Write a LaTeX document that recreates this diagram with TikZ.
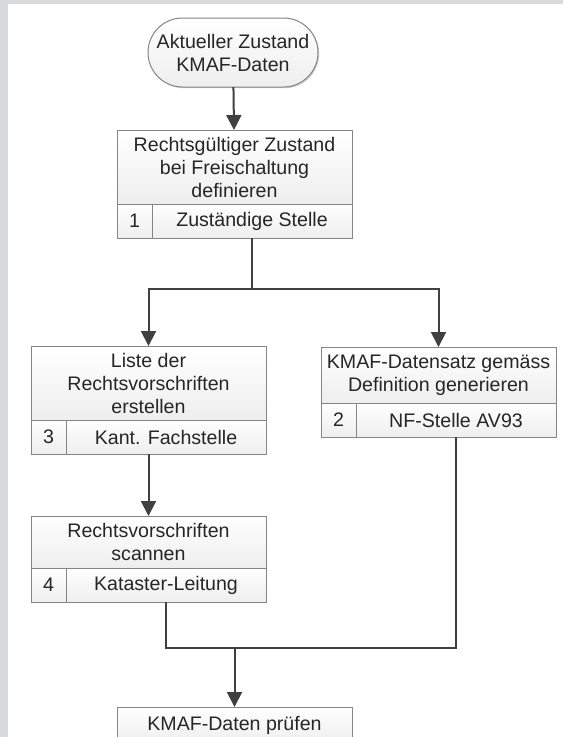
\documentclass[tikz,border=0pt]{standalone}
\usepackage{fontspec}
\setmainfont{Liberation Sans}
\usepackage{tikz}
\usetikzlibrary{arrows.meta,shadows}
\definecolor{c1}{HTML}{404040}
\definecolor{c2}{HTML}{858585}
\definecolor{c3}{HTML}{D7DBDC}
\definecolor{c4}{HTML}{EEEEEE}
\definecolor{c5}{HTML}{262626}

\begin{document}
\begin{tikzpicture}[x=1pt, y=-1pt, font=\fontsize{19.6}{23}\selectfont, text=c5,
	kasten/.style={rectangle, draw=c2, line width=1pt, top color=white, bottom color=c4, outer sep=0pt, inner sep=0pt, align=center,
		drop shadow={shadow xshift=1.2pt, shadow yshift=-1.2pt, fill=black, opacity=0.2}},
	terminal/.style={kasten, rounded corners=34.5pt, minimum width=170, minimum height=69},
	kopf/.style={kasten, minimum width=235, anchor=north west},
	nr/.style={kasten, minimum width=35, minimum height=34, anchor=north west},
	stelle/.style={kasten, minimum width=200, minimum height=34, anchor=north west},
	linie/.style={draw=c1, line width=2pt},
	pfeil/.style={linie, -{Triangle[length=15pt, width=15pt]}}]
	\clip (0, 0) rectangle (563, 737);
	\fill [white] (0, 0) rectangle (563, 737);
	\fill [c3] (0, 0) rectangle (8, 737);
	\fill [c3] (0, 0) rectangle (563, 4);

	\node [terminal] (akt) at (233, 52.5) {Aktueller Zustand\\KMAF-Daten};

	\node [kopf, minimum height=74] (def) at (117, 130) {Rechtsgültiger Zustand\\bei Freischaltung\\definieren};
	\node [nr] (def-nr) at (def.south west) {1};
	\node [stelle] (def-st) at (def-nr.north east) {Zuständige Stelle};

	\node [kopf, minimum height=56] (gen) at (321, 347) {KMAF-Datensatz gemäss\\Definition generieren};
	\node [nr] (gen-nr) at (gen.south west) {2};
	\node [stelle] (gen-st) at (gen-nr.north east) {NF-Stelle AV93};

	\node [kopf, minimum height=74] (liste) at (31, 346) {Liste der\\Rechtsvorschriften\\erstellen};
	\node [nr] (liste-nr) at (liste.south west) {3};
	\node [stelle] (liste-st) at (liste-nr.north east) {Kant. Fachstelle};

	\node [kopf, minimum height=52] (scan) at (31, 516) {Rechtsvorschriften\\scannen};
	\node [nr] (scan-nr) at (scan.south west) {4};
	\node [stelle] (scan-st) at (scan-nr.north east) {Kataster-Leitung};

	\node [kopf, minimum height=36] (pruef) at (117, 707) {KMAF-Daten prüfen};

	\draw [pfeil] (akt) -- (def);
	\draw [linie] (def-st.south) -- ++(0, 51) coordinate (j1);
	\draw [pfeil] (j1) -| (liste.north);
	\draw [pfeil] (j1) -| (gen.north);
	\draw [pfeil] (liste.center |- liste-st.south) -- (scan.north);
	\draw [linie] (scan-st.south) -- ++(0, 46) coordinate (j2) -| (gen-st.south);
	\draw [pfeil] (j2 -| pruef.north) -- (pruef.north);
\end{tikzpicture}
\end{document}
